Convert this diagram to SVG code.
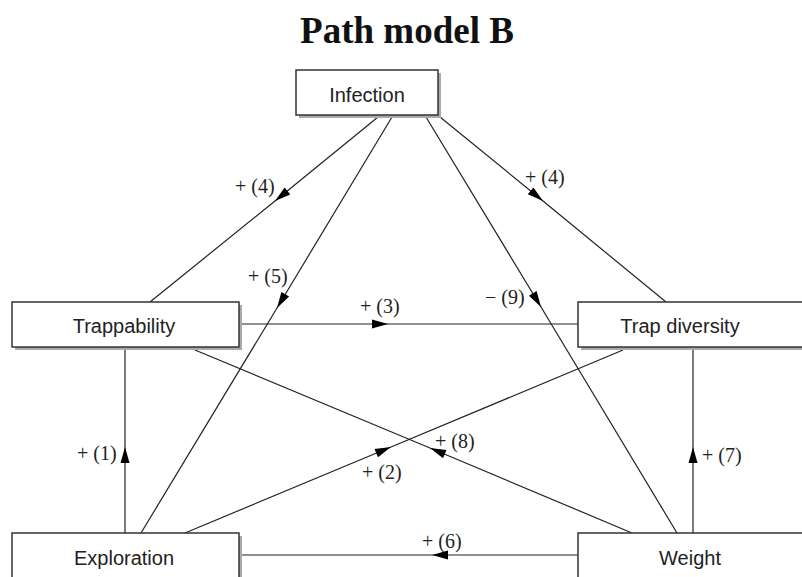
<svg xmlns="http://www.w3.org/2000/svg" width="802" height="577" viewBox="0 0 802 577">
<style>
.box{fill:#fff;stroke:#333;stroke-width:1.5}
.sh{fill:#aaa}
.nt{font-family:"Liberation Sans",Arial,sans-serif;font-size:20px;fill:#222;text-anchor:middle}
.lb{font-family:"Liberation Serif","Times New Roman",serif;font-size:20px;fill:#222}
.cn{fill:none;stroke:#222;stroke-width:1.2;marker-mid:url(#ah)}
.title{font-family:"Liberation Serif","Times New Roman",serif;font-size:37px;font-weight:bold;fill:#111;text-anchor:middle}
</style>
<defs>
<marker id="ah" viewBox="-17 -5 18 10" markerWidth="18" markerHeight="10" refX="0" refY="0" orient="auto" markerUnits="userSpaceOnUse">
<path d="M0,0 L-16,-4.5 L-16,4.5 z" fill="#000"/>
</marker>
</defs>
<rect width="802" height="577" fill="#fff"/>
<text class="title" x="407" y="43">Path model B</text>
<g id="connectors">
<path class="cn" d="M378,117 L275,201 L150,302"/>
<path class="cn" d="M392,117 L277,308 L141,533"/>
<path class="cn" d="M426,117 L541,307 L677,533"/>
<path class="cn" d="M440,117 L543,201 L666,302"/>
<path class="cn" d="M242,324 L388,324 L578,324"/>
<path class="cn" d="M125,533 L125,447 L125,350"/>
<path class="cn" d="M693,533 L693,447 L693,350"/>
<path class="cn" d="M578,555 L432,555 L242,555"/>
<path class="cn" d="M185,533 L391,447 L623,350"/>
<path class="cn" d="M632,533 L430,448 L195,350"/>
</g>
<g id="labels">
<text class="lb" x="235" y="193">+ (4)</text>
<text class="lb" x="248" y="283">+ (5)</text>
<text class="lb" x="360" y="313">+ (3)</text>
<text class="lb" x="485" y="304">− (9)</text>
<text class="lb" x="525" y="184">+ (4)</text>
<text class="lb" x="77" y="460">+ (1)</text>
<text class="lb" x="362" y="479">+ (2)</text>
<text class="lb" x="435" y="448">+ (8)</text>
<text class="lb" x="702" y="462">+ (7)</text>
<text class="lb" x="422" y="548">+ (6)</text>
</g>
<g id="node-infection">
<rect class="sh" x="299" y="73" width="142" height="45"/>
<rect class="box" x="296" y="70" width="142" height="45"/>
<text class="nt" x="367" y="102">Infection</text>
</g>
<g id="node-trappability">
<rect class="sh" x="15" y="305" width="227" height="45"/>
<rect class="box" x="12" y="302" width="227" height="45"/>
<text class="nt" x="124" y="333">Trappability</text>
</g>
<g id="node-trapdiversity">
<rect class="sh" x="581" y="305" width="240" height="45"/>
<rect class="box" x="578" y="302" width="240" height="45"/>
<text class="nt" x="680" y="333">Trap diversity</text>
</g>
<g id="node-exploration">
<rect class="sh" x="15" y="536" width="227" height="60"/>
<rect class="box" x="12" y="533" width="227" height="60"/>
<text class="nt" x="124" y="565">Exploration</text>
</g>
<g id="node-weight">
<rect class="sh" x="581" y="536" width="240" height="60"/>
<rect class="box" x="578" y="533" width="240" height="60"/>
<text class="nt" x="690" y="565">Weight</text>
</g>
</svg>
